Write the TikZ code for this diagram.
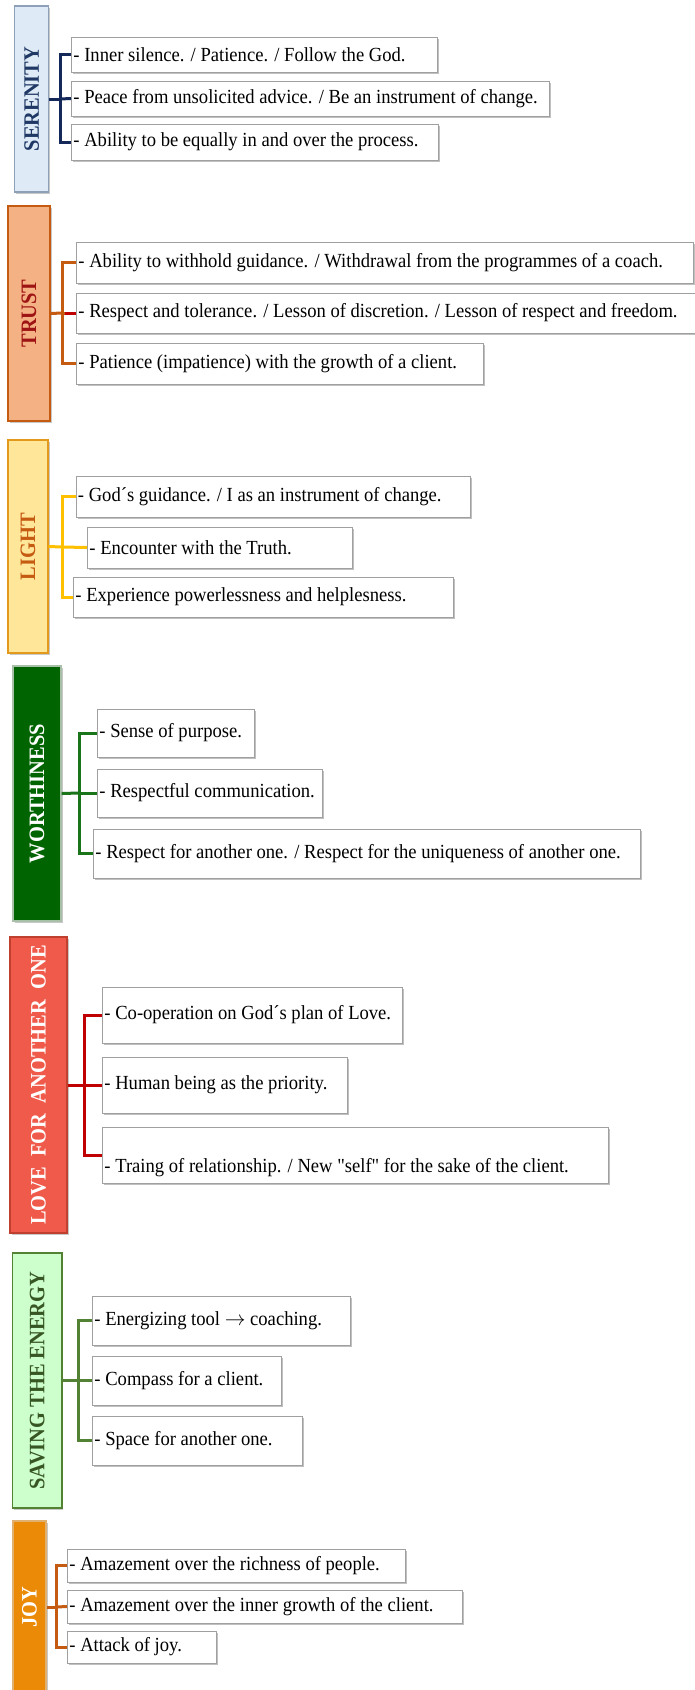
\documentclass[tikz,border=0pt]{standalone}
\usepackage{fontspec}
\setmainfont{Liberation Serif}[Ligatures=TeXOff, FakeStretch=0.93]
\usepackage{graphicx}
\usetikzlibrary{shadows}
\definecolor{serfill}{HTML}{DEEBF7}\definecolor{serline}{HTML}{8EA0B8}\definecolor{sertext}{HTML}{1F3864}\definecolor{serconn}{HTML}{14285A}
\definecolor{trfill}{HTML}{F4B183}\definecolor{trline}{HTML}{C55A11}\definecolor{trtext}{HTML}{9E1414}\definecolor{trconn}{HTML}{C55A11}\definecolor{trred}{HTML}{C00000}
\definecolor{lifill}{HTML}{FFE699}\definecolor{liline}{HTML}{E39A1C}\definecolor{litext}{HTML}{C55A11}\definecolor{liconn}{HTML}{FFC000}
\definecolor{wofill}{HTML}{006400}\definecolor{woline}{HTML}{A8BFA8}\definecolor{woconn}{HTML}{1A741A}
\definecolor{lofill}{HTML}{F05A4A}\definecolor{loline}{HTML}{C04030}\definecolor{loconn}{HTML}{C00000}
\definecolor{safill}{HTML}{CCFFCC}\definecolor{saline}{HTML}{548235}\definecolor{satext}{HTML}{375623}\definecolor{saconn}{HTML}{548235}
\definecolor{jofill}{HTML}{EB8A06}\definecolor{joline}{HTML}{E0B070}\definecolor{joconn}{HTML}{C55A11}
\definecolor{boxline}{HTML}{A0A0A0}
\newcommand\ibox[5]{%
  \node[item, minimum width=#3pt, minimum height=#4pt, anchor=west] (#1) at (#2)
    {\makebox[\dimexpr#3pt-4pt\relax][l]{#5}};}
\begin{document}
\begin{tikzpicture}[x=1pt,y=-1pt,
  item/.style={draw=boxline, line width=0.9pt, fill=white, inner xsep=2pt, inner ysep=0pt,
    font=\fontsize{20}{24}\selectfont,
    drop shadow={shadow xshift=1.6pt, shadow yshift=-2.2pt, opacity=0.35, fill=black!70}},
  bar/.style={line width=1.2pt, inner sep=0pt, font=\fontsize{22}{26}\selectfont\bfseries,
    drop shadow={shadow xshift=1.5pt, shadow yshift=-1.8pt, opacity=0.3, fill=black!70}},
  conn/.style={line width=3pt}]
\useasboundingbox (0,0) rectangle (694,1690);
\fill[white] (0,0) rectangle (694,1690);

% ---------- SERENITY
\node[bar, draw=serline, fill=serfill, text=sertext, minimum width=34pt, minimum height=186pt] (ser) at (31.8,99) {\rotatebox{90}{SERENITY}};
\ibox{s1}{71,54.5}{366}{35}{- Inner silence. / Patience. / Follow the God.}
\ibox{s2}{71,98.5}{478}{35}{- Peace from unsolicited advice. / Be an instrument of change.}
\ibox{s3}{71,142}{367}{36}{- Ability to be equally in and over the process.}
\coordinate (sj) at (60,99);
\draw[conn, serconn] (ser.east) -- (sj);
\draw[conn, serconn] (s1.west) -| (sj) |- (s3.west);
\draw[conn, serconn] (sj) -- (s2.west);

% ---------- TRUST
\node[bar, draw=trline, fill=trfill, text=trtext, minimum width=42pt, minimum height=215pt] (tr) at (29,313.5) {\rotatebox{90}{TRUST}};
\ibox{t1}{76,262.5}{617}{41}{- Ability to withhold guidance. / Withdrawal from the programmes of a coach.}
\ibox{t2}{76,313}{632}{40}{- Respect and tolerance. / Lesson of discretion. / Lesson of respect and freedom.}
\ibox{t3}{76,363.5}{407}{41}{- Patience (impatience) with the growth of a client.}
\coordinate (tj) at (62,313);
\draw[conn, trconn] (tr.east) -- (tj);
\draw[conn, trconn] (t1.west) -| (tj) |- (t3.west);
\draw[conn, trconn] (tj) -- ++(3,0) coordinate (tk);
\draw[conn, trred] (tk) -- (t2.west);

% ---------- LIGHT
\node[bar, draw=liline, fill=lifill, text=litext, minimum width=40pt, minimum height=213pt] (li) at (28,546.5) {\rotatebox{90}{LIGHT}};
\ibox{l1}{75.5,496.5}{394.5}{41}{- God´s guidance. / I as an instrument of change.}
\ibox{l2}{87,547.5}{265}{41}{- Encounter with the Truth.}
\ibox{l3}{73,597}{380}{40}{- Experience powerlessness and helplesness.}
\coordinate (lj) at (62,547);
\draw[conn, liconn] (li.east) -- (lj);
\draw[conn, liconn] (l1.west) -| (lj) |- (l3.west);
\draw[conn, liconn] (lj) -- (l2.west);

% ---------- WORTHINESS
\node[bar, draw=woline, fill=wofill, text=white, minimum width=48pt, minimum height=255pt] (wo) at (37,793.5) {\rotatebox{90}{WORTHINESS}};
\ibox{w1}{97,733}{157}{48}{- Sense of purpose.}
\ibox{w2}{97,793}{225}{48}{- Respectful communication.}
\ibox{w3}{93,853.5}{547}{49}{- Respect for another one. / Respect for the uniqueness of another one.}
\coordinate (wj) at (79,793);
\draw[conn, woconn] (wo.east) -- (wj);
\draw[conn, woconn] (w1.west) -| (wj) |- (w3.west);
\draw[conn, woconn] (wj) -- (w2.west);

% ---------- LOVE FOR ANOTHER ONE
\node[bar, draw=loline, fill=lofill, text=white, minimum width=57pt, minimum height=296pt] (lo) at (38.5,1085) {\rotatebox{90}{LOVE\ \ FOR\ \ ANOTHER\ \ ONE}};
\ibox{v1}{102,1015}{300}{56}{- Co-operation on God´s plan of Love.}
\ibox{v2}{102,1085}{245}{56}{- Human being as the priority.}
\node[item, minimum width=506pt, minimum height=56pt, anchor=west, align=left] (v3) at (102,1155)
  {\makebox[502pt][l]{\strut}\\[-1pt]\makebox[502pt][l]{- Traing of relationship. / New "self" for the sake of the client.}};
\coordinate (vj) at (84,1085);
\draw[conn, loconn] (lo.east) -- (vj);
\draw[conn, loconn] (v1.west) -| (vj) |- (v3.west);
\draw[conn, loconn] (vj) -- (v2.west);

% ---------- SAVING THE ENERGY
\node[bar, draw=saline, fill=safill, text=satext, minimum width=49.5pt, minimum height=255pt] (sa) at (37.2,1380.5) {\rotatebox{90}{SAVING THE ENERGY}};
\ibox{e1}{92,1320.5}{258}{49}{- Energizing tool $\rightarrow$ coaching.}
\ibox{e2}{92,1380.5}{189}{49}{- Compass for a client.}
\ibox{e3}{92,1440.5}{210}{49}{- Space for another one.}
\coordinate (ej) at (78,1380.5);
\draw[conn, saconn] (sa.east) -- (ej);
\draw[conn, saconn] (e1.west) -| (ej) |- (e3.west);
\draw[conn, saconn] (ej) -- (e2.west);

% ---------- JOY
\node[bar, draw=joline, fill=jofill, text=white, minimum width=33pt, minimum height=172pt] (jo) at (29.5,1607) {\rotatebox{90}{JOY}};
\ibox{j1}{67,1565.5}{338}{33}{- Amazement over the richness of people.}
\ibox{j2}{67,1606.5}{395}{33}{- Amazement over the inner growth of the client.}
\ibox{j3}{67,1647}{149}{32}{- Attack of joy.}
\coordinate (jj) at (56,1607);
\draw[conn, joconn] (jo.east) -- (jj);
\draw[conn, joconn] (j1.west) -| (jj) |- (j3.west);
\draw[conn, joconn] (jj) -- (j2.west);
\end{tikzpicture}
\end{document}
